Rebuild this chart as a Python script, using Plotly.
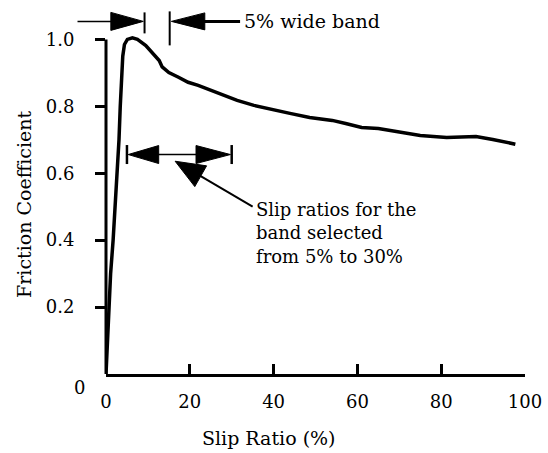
import plotly.graph_objects as go

# ---------------- data ----------------
slip_ratio = [0, 0.3, 0.6, 1.1, 1.7, 2.2, 2.7, 3.1, 3.4, 3.7, 4.0, 4.4, 5.1, 6.3, 7.5,
              9.5, 11.0, 12.0, 12.7, 13.4, 15.0, 17.3, 19.6, 22.0, 25.0, 28.3, 31.3,
              35.3, 39.3, 43.9, 48.6, 54.0, 57.2, 61.0, 65.0, 70.3, 75.0, 81.3, 88.3,
              92.3, 97.7]
friction = [0, 0.1, 0.2, 0.3, 0.4, 0.5, 0.6, 0.7, 0.8, 0.9, 0.95, 0.985, 1.0, 1.005, 1.0,
            0.982, 0.961, 0.946, 0.937, 0.918, 0.901, 0.887, 0.872, 0.863, 0.848, 0.833,
            0.818, 0.803, 0.791, 0.779, 0.767, 0.758, 0.749, 0.737, 0.734, 0.722, 0.713,
            0.707, 0.710, 0.701, 0.687]

x_ticks = [0, 20, 40, 60, 80, 100]
y_ticks = [0.2, 0.4, 0.6, 0.8, 1.0]
y_tick_labels = ["0.2", "0.4", "0.6", "0.8", "1.0"]

band_lo, band_hi = 5, 30          # selected slip band (%)
wide_lo, wide_hi = 9.2, 15.2      # "5% wide band" markers

# ---------------- layout constants ----------------
W, H = 548, 453
ML, MR, MT, MB = 106, 16, 6, 79
XR = [0, 100]
YR = [0, 1.10]
PW = W - ML - MR
PH = H - MT - MB
FONT = "DejaVu Serif"
FS = 19
TFS = 18


def px_(v):
    return (v - XR[0]) / (XR[1] - XR[0])


def py_(v):
    return (v - YR[0]) / (YR[1] - YR[0])


def dpx(p):  # pixels -> paper (x)
    return p / PW


def dpy(p):  # pixels -> paper (y)
    return p / PH


shapes = []


def seg(x0, y0, x1, y1, w):
    shapes.append(dict(type="line", xref="paper", yref="paper",
                       x0=px_(x0), y0=py_(y0), x1=px_(x1), y1=py_(y1),
                       line=dict(color="black", width=w)))


def vbar(x, y, up_px, down_px, w=2):
    shapes.append(dict(type="line", xref="paper", yref="paper",
                       x0=px_(x), x1=px_(x), y0=py_(y) - dpy(down_px), y1=py_(y) + dpy(up_px),
                       line=dict(color="black", width=w)))


def head(tx, ty, ux, uy, length, half):
    # tip at data (tx,ty); direction (ux,uy) unit vector in pixel space (y up)
    X = px_(tx)
    Y = py_(ty)
    bx, by = -ux * length, -uy * length
    nx, ny = -uy * half, ux * half
    p1 = (X + dpx(bx + nx), Y + dpy(by + ny))
    p2 = (X + dpx(bx - nx), Y + dpy(by - ny))
    path = f"M{X},{Y} L{p1[0]},{p1[1]} L{p2[0]},{p2[1]} Z"
    shapes.append(dict(type="path", xref="paper", yref="paper", path=path,
                       fillcolor="black", line=dict(color="black", width=1)))


# y-axis line (0 to 1.0)
seg(0, 0, 0, 1.0, 3)

# top "5% wide band" arrows
ytop = 1.054
seg(-6.8, ytop, wide_lo - 5, ytop, 1.5)
head(wide_lo - 0.3, ytop, 1, 0, 33, 9)
vbar(wide_lo, ytop, 9, 12, 2)
vbar(wide_hi, ytop, 10, 24, 2)
head(wide_hi + 0.4, ytop, -1, 0, 34, 8.5)
seg(wide_hi + 8, ytop, 32.0, ytop, 3)

# middle band arrows (5% to 30%)
ymid = 0.656
vbar(band_lo, ymid, 9.5, 9.5, 2.5)
vbar(band_hi, ymid, 9.5, 9.5, 2.5)
seg(band_lo + 7, ymid, band_hi - 7, ymid, 1.5)
head(band_lo + 0.3, ymid, -1, 0, 31, 9)
head(band_hi - 0.3, ymid, 1, 0, 35, 9)

# callout arrow
tip = (16.5, 0.636)
tail = (35.0, 0.500)
dxp = (tail[0] - tip[0]) / (XR[1] - XR[0]) * PW
dyp = (tail[1] - tip[1]) / (YR[1] - YR[0]) * PH
L = (dxp ** 2 + dyp ** 2) ** 0.5
ux, uy = -dxp / L, -dyp / L
seg(tail[0], tail[1],
    tip[0] - 20 * ux / PW * (XR[1] - XR[0]), tip[1] - 20 * uy / PH * (YR[1] - YR[0]), 2)
head(tip[0], tip[1], ux, uy, 30, 12)

callout = "Slip ratios for the<br>band selected<br>from 5% to 30%"

annotations = [
    dict(text="5% wide band", x=px_(32.5), y=py_(1.054), xanchor="left", yanchor="middle",
         size=FS),
    dict(text=callout, x=px_(35.4), y=py_(0.421), xanchor="left", yanchor="middle",
         align="left", size=18),
    dict(text="Slip Ratio (%)", x=px_(39.0), y=py_(-0.191), xanchor="center",
         yanchor="middle", size=FS),
    dict(text="Friction Coefficient", x=px_(-19.6), y=py_(0.508), xanchor="center",
         yanchor="middle", textangle=-90, size=FS),
    dict(text="0", x=px_(-6.3), y=py_(-0.039), xanchor="center", yanchor="middle",
         size=TFS),
]
for a in annotations:
    s = a.pop("size")
    a.update(xref="paper", yref="paper", showarrow=False,
             font=dict(family=FONT, size=s, color="black"))

fig = go.Figure()
fig.add_trace(go.Scatter(x=slip_ratio, y=friction, mode="lines",
                         line=dict(color="black", width=3.5), showlegend=False,
                         hoverinfo="skip"))

fig.update_layout(
    width=W, height=H,
    margin=dict(l=ML, r=MR, t=MT, b=MB),
    paper_bgcolor="white", plot_bgcolor="white",
    shapes=shapes, annotations=annotations,
    font=dict(family=FONT, size=FS, color="black"),
    xaxis=dict(range=XR, tickvals=x_ticks, ticktext=[str(v) for v in x_ticks],
               ticks="inside", ticklen=10, tickwidth=3, tickcolor="black",
               showline=True, linecolor="black", linewidth=3, showgrid=False,
               zeroline=False, ticklabelstandoff=9, ticklabeloverflow="allow",
               tickfont=dict(family=FONT, size=TFS, color="black")),
    yaxis=dict(range=YR, tickvals=y_ticks, ticktext=y_tick_labels,
               ticks="outside", ticklen=10, tickwidth=3, tickcolor="black",
               showline=False, showgrid=False, zeroline=False, ticklabelstandoff=17,
               tickfont=dict(family=FONT, size=TFS, color="black")),
)

fig.write_html("out.html", config={"displayModeBar": False},
               post_script="document.body.style.margin='0';")
